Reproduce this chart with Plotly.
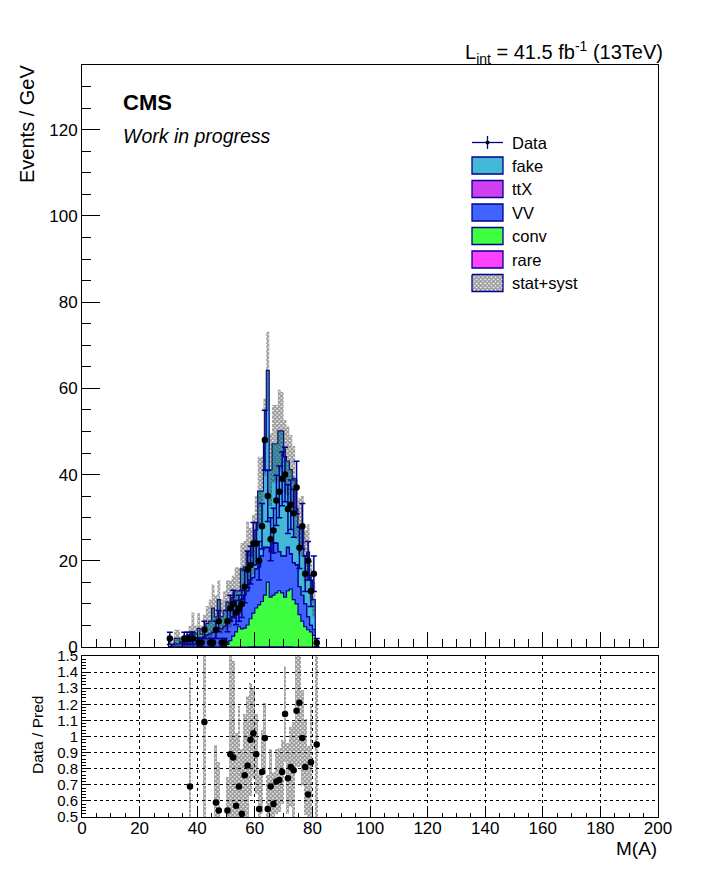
import numpy as np
import plotly.graph_objects as go

# 1 GeV bins from 30 to 82 GeV
edges = list(range(30, 83))

# background stack, events per bin, bottom to top: rare, conv, VV, ttX, fake
rare = [0, 0, 0, 0, 0, 0, 0, 0, 0, 0,
        0, 0, 0, 0, 0, 0, 0, 0, 0, 0,
        0, 0, 0, 0, 0, 0, 0, 0, 0.05, 0.05,
        0.05, 0.05, 0.05, 0.05, 0.05, 0.05, 0.05, 0.05, 0.05, 0.05,
        0.05, 0.05, 0.05, 0, 0, 0, 0, 0, 0, 0,
        0, 0]
conv = [0, 0, 0, 0, 0, 0, 0, 0, 0, 0,
        0, 0, 0, 0, 0, 0, 0, 0, 0, 0,
        0.6, 1.5, 2.5, 3.5, 4.7, 4.2, 4.4, 5.1, 6.5, 7.8,
        9.0, 9.7, 10.5, 12.0, 15.0, 11.5, 12.0, 12.5, 13.0, 12.5,
        11.5, 13.0, 13.4, 11.0, 10.0, 7.5, 6.0, 4.7, 4.0, 3.5,
        2.7, 0.5]
vv = [0, 0.5, 0.7, 0.7, 1.0, 1.0, 1.2, 1.5, 1.8, 1.6,
      2.2, 2.0, 2.4, 2.8, 3.0, 3.4, 3.5, 4.3, 4.2, 4.8,
      4.9, 4.5, 4.5, 4.3, 3.3, 6.8, 7.6, 7.9, 9.0, 8.2,
      9.0, 8.8, 10.5, 11.0, 8.0, 10.5, 12.0, 11.5, 9.0, 8.5,
      9.5, 10.0, 8.1, 8.5, 9.0, 6.5, 6.0, 5.3, 3.0, 1.5,
      1.3, 0.3]
ttx = [0, 0, 0, 0, 0, 0, 0, 0, 0, 0,
       0, 0, 0, 0, 0, 0, 0, 0, 0, 0,
       0, 0, 0, 0, 0, 0.1, 0.1, 0.1, 0.1, 0.1,
       0.1, 0.1, 0.1, 0.1, 0.1, 0.1, 0.1, 0.1, 0.1, 0.1,
       0.1, 0.1, 0.1, 0.1, 0.1, 0, 0, 0, 0, 0,
       0, 0]
fake = [0, 0.1, 1.3, 1.3, 0.2, 0.3, 0.3, 1.4, 1.7, 1.4,
        2.1, 1.0, 1.6, 2.7, 3.0, 5.6, 3.5, 6.7, 2.8, 3.7,
        5.0, 4.0, 4.5, 5.2, 5.0, 7.0, 6.5, 9.0, 5.5, 7.5,
        9.0, 17.5, 15.0, 25.5, 41.0, 19.0, 23.0, 23.0, 28.0, 29.0,
        23.0, 20.0, 19.5, 19.5, 13.0, 14.0, 16.0, 11.0, 15.0, 10.5,
        7.0, 0.25]
# stat+syst uncertainty on the total
syst = [0, 0.6, 2.0, 2.0, 1.2, 1.3, 1.5, 2.0, 4.5, 2.0,
        3.5, 2.0, 3.5, 4.0, 5.0, 5.5, 5.0, 4.5, 4.0, 4.5,
        5.0, 5.5, 5.0, 5.5, 5.5, 6.0, 6.0, 7.0, 6.5, 7.0,
        8.0, 8.0, 8.0, 9.0, 9.0, 8.5, 9.0, 9.0, 9.5, 9.0,
        8.5, 8.0, 8.0, 7.5, 7.0, 6.5, 7.0, 6.0, 6.5, 5.0,
        4.0, 1.0]
data = [2, 0, 0, 0, 0, 2, 2, 2, 2, 0,
        1, 1, 4, 0, 1, 1, 4, 6, 1, 1,
        6, 9, 10, 8, 9, 10, 14, 18, 19, 24,
        24, 20, 28, 48, 35, 25, 27, 34, 36, 39,
        40, 32, 33, 31, 37, 23, 28, 17, 20, 13,
        17, 1]

# ratio panel (bins inside the 0.5-1.5 window)
ratio_bins = [37, 42, 46, 47, 50, 51, 52, 53, 54, 55, 56, 57, 58, 59, 60, 61, 62, 63,
              64, 65, 66, 67, 68, 69, 70, 71, 72, 73, 74, 75, 76, 77, 78, 79, 81]
ratio_val = [0.69, 1.09, 0.59, 0.54, 0.54, 0.89, 0.87, 0.57, 0.69, 0.52, 0.76, 0.82,
             0.98, 1.02, 0.89, 0.55, 0.78, 0.99, 0.55, 0.69, 0.58, 0.72, 0.73, 0.78,
             1.14, 0.74, 0.81, 0.79, 1.16, 1.21, 0.99, 0.81, 0.64, 0.84, 0.95]
ratio_err = [0.68, 0.95, 0.36, 0.30, 0.21, 0.70, 0.60, 0.45, 0.50, 0.40, 0.38, 0.43,
             0.35, 0.28, 0.25, 0.22, 0.26, 0.22, 0.21, 0.23, 0.20, 0.20, 0.20, 0.20,
             0.30, 0.22, 0.25, 0.30, 0.35, 0.40, 0.30, 0.30, 0.30, 0.35, 0.90]

names = ["rare", "conv", "VV", "ttX", "fake"]
colors = ["#FF40FF", "#40FF40", "#4064FF", "#D040F0", "#43B9D5"]
legend_order = ["fake", "ttX", "VV", "conv", "rare"]

NAVY = "#000090"
FONT = "Liberation Sans, Arial, Helvetica, sans-serif"
HATCH = dict(shape="x", fgcolor="#303030", bgcolor="rgba(0,0,0,0)", size=3, solidity=0.75)
W, H = 716, 872
# frame position on the page (the page body adds an 8px offset)
L, R, T, B = 82, 58, 65, 55
OFF = 8
PW, PH = W - L - R, H - T - B


def px(x):
    return (x - L) / PW


def py(y):
    return (H - B - y) / PH


layers = np.cumsum(np.array([rare, conv, vv, ttx, fake]), axis=0)
total = layers[-1]
centers = np.array(edges[:-1]) + 0.5


def step_closed(vals):
    xs = [edges[0]] + edges[:-1] + [edges[-1], edges[-1]]
    ys = [0] + list(vals) + [vals[-1], 0]
    return xs, ys


def step_open(vals):
    xs = edges[:-1] + [edges[-1]]
    ys = list(vals) + [vals[-1]]
    return xs, ys


fig = go.Figure()

# stack: draw the highest cumulative first
for i in range(len(names) - 1, -1, -1):
    xs, ys = step_closed(layers[i])
    fig.add_trace(go.Scatter(x=xs, y=ys, mode="lines", line=dict(color=NAVY, width=1.2, shape="hv"),
                             fill="tozeroy", fillcolor=colors[i], showlegend=False, hoverinfo="skip"))

# stat+syst band
lo = total - np.array(syst)
hi = total + np.array(syst)
xs, ys = step_open(lo)
fig.add_trace(go.Scatter(x=xs, y=ys, mode="lines", line=dict(width=0, shape="hv"),
                         showlegend=False, hoverinfo="skip"))
xs, ys = step_open(hi)
fig.add_trace(go.Scatter(x=xs, y=ys, mode="lines", line=dict(width=0, shape="hv"), fill="tonexty",
                         fillcolor="rgba(0,0,0,0)", fillpattern=HATCH,
                         showlegend=False, hoverinfo="skip"))

# data points
d = np.array(data, dtype=float)
dy = [v if v > 0 else None for v in d]
fig.add_trace(go.Scatter(x=centers, y=dy, mode="markers",
                         marker=dict(color="black", size=6.5),
                         error_y=dict(type="data", array=np.sqrt(d), color=NAVY, thickness=1.5, width=3),
                         showlegend=False, hoverinfo="skip"))

# ratio panel
rc = np.array(ratio_bins) + 0.5
rv = np.array(ratio_val)
re = np.array(ratio_err)
fig.add_trace(go.Bar(x=rc, y=2 * re, base=rv - re, width=1, xaxis="x2", yaxis="y2",
                     marker=dict(color="rgba(0,0,0,0)", line=dict(width=0), pattern=HATCH),
                     showlegend=False, hoverinfo="skip"))
fig.add_trace(go.Scatter(x=rc, y=rv, mode="markers", xaxis="x2", yaxis="y2",
                         marker=dict(color="black", size=6.5), showlegend=False, hoverinfo="skip"))

# legend (drawn by hand, ROOT style)
shapes = []
annos = []
lx0, lx1 = 472, 503
shapes.append(dict(type="line", xref="paper", yref="paper", x0=px(lx0), x1=px(lx1),
                   y0=py(142.5), y1=py(142.5), line=dict(color=NAVY, width=1.3)))
shapes.append(dict(type="line", xref="paper", yref="paper", x0=px(487.5), x1=px(487.5),
                   y0=py(136), y1=py(149), line=dict(color=NAVY, width=1.3)))
shapes.append(dict(type="circle", xref="paper", yref="paper", x0=px(485.5), x1=px(489.5),
                   y0=py(140.5), y1=py(144.5), fillcolor="black", line=dict(color="black", width=0)))
annos.append(dict(text="Data", x=px(510), y=py(142.5)))
ytop = 157
for k, nm in enumerate(legend_order):
    y0 = ytop + k * 23.5
    shapes.append(dict(type="rect", xref="paper", yref="paper", x0=px(lx0), x1=px(lx1),
                       y0=py(y0), y1=py(y0 + 17), fillcolor=colors[names.index(nm)],
                       line=dict(color=NAVY, width=1.3)))
    annos.append(dict(text=nm, x=px(510), y=py(y0 + 8.5)))
# stat+syst key as a patterned area in main-axis units
ys0 = ytop + 5 * 23.5
kx = [(lx0 - L) / PW * 200, (lx1 - L) / PW * 200]
ky = [(647 - ys0) / 582 * 135, (647 - ys0 - 17) / 582 * 135]
fig.add_trace(go.Scatter(x=[kx[0], kx[1], kx[1], kx[0], kx[0]], y=[ky[0], ky[0], ky[1], ky[1], ky[0]],
                         mode="lines", line=dict(color=NAVY, width=1.3), fill="toself",
                         fillcolor="rgba(0,0,0,0)", fillpattern=HATCH,
                         showlegend=False, hoverinfo="skip"))
annos.append(dict(text="stat+syst", x=px(510), y=py(ys0 + 8.5)))
for a in annos:
    a.update(xanchor="left", yanchor="middle",
             font=dict(size=16.5, color="black", family=FONT))

annos += [
    dict(text="<b>CMS</b>", x=px(121), y=py(103), xanchor="left", yanchor="middle",
         font=dict(size=22, family=FONT)),
    dict(text="<i>Work in progress</i>", x=px(121), y=py(136), xanchor="left", yanchor="middle",
         font=dict(size=19.5, family=FONT)),
    dict(text="L<sub>int</sub> = 41.5 fb<sup>-1</sup> (13TeV)", x=px(665), y=py(52),
         xanchor="right", yanchor="middle", font=dict(size=20, family=FONT)),
    dict(text="Events / GeV", x=px(27), y=py(124), textangle=-90, xanchor="center",
         yanchor="middle", font=dict(size=20, family=FONT)),
    dict(text="Data / Pred", x=px(37), y=py(735), textangle=-90, xanchor="center",
         yanchor="middle", font=dict(size=15.5, family=FONT)),
    dict(text="M(A)", x=px(659), y=py(848), xanchor="right", yanchor="middle",
         font=dict(size=19, family=FONT)),
]
for a in annos:
    a.update(xref="paper", yref="paper", showarrow=False)
    a["font"]["color"] = "black"

main_bottom = py(647)
ratio_top = py(656)

axis_common = dict(showline=True, linecolor="black", linewidth=1, mirror=True, ticks="inside",
                   tickcolor="black", zeroline=False, tickfont=dict(size=17, family=FONT, color="black"))

fig.update_layout(
    width=W, height=H,
    margin=dict(l=L - OFF, r=R + OFF, t=T - OFF, b=B + OFF, autoexpand=False),
    paper_bgcolor="white", plot_bgcolor="white",
    barmode="overlay", bargap=0,
    showlegend=False,
    shapes=shapes, annotations=annos,
    xaxis=dict(domain=[0, 1], range=[0, 200], anchor="y", showticklabels=False, dtick=20,
               ticklen=15, showgrid=False,
               minor=dict(dtick=5, ticklen=8, ticks="inside", tickcolor="black", showgrid=False),
               **axis_common),
    yaxis=dict(domain=[main_bottom, 1], range=[0, 135], anchor="x", dtick=20, ticklen=18,
               showgrid=False,
               minor=dict(dtick=5, ticklen=9, ticks="inside", tickcolor="black", showgrid=False),
               **axis_common),
    xaxis2=dict(domain=[0, 1], range=[0, 200], anchor="y2", dtick=20, ticklen=8,
                showgrid=True, gridcolor="black", griddash="dot", gridwidth=1, ticklabelstandoff=-4,
                minor=dict(dtick=5, ticklen=4, ticks="inside", tickcolor="black", showgrid=False),
                **axis_common),
    yaxis2=dict(domain=[0, ratio_top], range=[0.5, 1.5], anchor="x2", dtick=0.1, ticklen=8,
                showgrid=True, gridcolor="black", griddash="dot", gridwidth=1,
                minor=dict(dtick=0.02, ticklen=4, ticks="inside", tickcolor="black", showgrid=False),
                **{**axis_common, "tickfont": dict(size=15, family=FONT, color="black")}),
)

fig.write_html("out.html")
